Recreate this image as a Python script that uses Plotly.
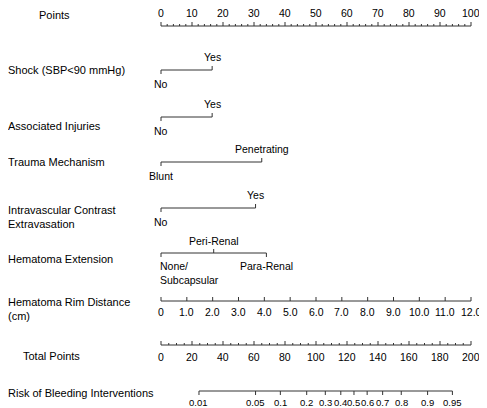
import plotly.graph_objects as go

# nomogram data (points scale 0-100)
points_ticks = list(range(0, 101, 10))
shock_levels = ["No", "Yes"]
shock_pts = [0, 16.5]
injury_levels = ["No", "Yes"]
injury_pts = [0, 16.5]
mech_levels = ["Blunt", "Penetrating"]
mech_pts = [0, 32.5]
contrast_levels = ["No", "Yes"]
contrast_pts = [0, 30.5]
hema_levels = ["None/<br>Subcapsular", "Peri-Renal", "Para-Renal"]
hema_pts = [0, 17, 34]
rim_values = [0, 1, 2, 3, 4, 5, 6, 7, 8, 9, 10, 11, 12]
rim_labels = ["0", "1.0", "2.0", "3.0", "4.0", "5.0", "6.0", "7.0", "8.0", "9.0", "10.0", "11.0", "12.0"]
total_ticks = list(range(0, 201, 20))
risk_labels = ["0.01", "0.05", "0.1", "0.2", "0.3", "0.4", "0.5", "0.6", "0.7", "0.8", "0.9", "0.95"]
risk_total = [24.5, 61, 77, 94, 106, 116, 124.5, 133, 143, 155, 172, 188]

row_names = ["Points", "Shock (SBP<90 mmHg)", "Associated Injuries", "Trauma Mechanism",
             "Intravascular Contrast<br>Extravasation", "Hematoma Extension",
             "Hematoma Rim Distance<br>(cm)", "Total Points", "Risk of Bleeding Interventions"]
row_label_y = [15, 70, 126, 162, 217, 259, 309, 356, 393]
row_label_x = [0.06, -0.004, -0.004, -0.004, -0.004, -0.004, -0.004, 0.028, -0.004]

FONT = "Liberation Sans, Arial"
xs, ys = [], []
def seg(x0, y0, x1, y1):
    xs.extend([x0, x1, None]); ys.extend([y0, y1, None])

annos = []
def lab(x, y, t, size=10.5):
    annos.append(dict(x=x, y=y, text=t, showarrow=False, xref="x", yref="y",
                      font=dict(size=size, family=FONT, color="black")))

# Points axis
py = 26
seg(0, py, 100, py)
for v in range(0, 101, 2):
    seg(v, py, v, py - (4 if v % 10 == 0 else 2))
for v in points_ticks:
    lab(v, 13, str(v))

def cat_row(levels, pts, ly, up):
    seg(min(pts), ly, max(pts), ly)
    for i, (l, p) in enumerate(zip(levels, pts)):
        above = up[i]
        seg(p, ly, p, ly - 4 if above else ly + 4)
        lab(p, ly - 13 if above else ly + 14, l)

cat_row(shock_levels, shock_pts, 70, [False, True])
cat_row(injury_levels, injury_pts, 117, [False, True])
cat_row(mech_levels, mech_pts, 162, [False, True])
cat_row(contrast_levels, contrast_pts, 208, [False, True])
# hematoma extension
hy = 253
seg(0, hy, 34, hy)
seg(0, hy, 0, hy + 4); seg(17, hy, 17, hy - 4); seg(34, hy, 34, hy + 4)
annos.append(dict(x=-1, y=hy + 20, text=hema_levels[0], showarrow=False, xanchor="left", align="left",
                  font=dict(size=10.5, family=FONT, color="black")))
lab(17, hy - 12, hema_levels[1])
lab(34, hy + 13, hema_levels[2])

# rim distance
ry = 301
seg(0, ry, 100, ry)
for v, t in zip(rim_values, rim_labels):
    p = v * 100 / 12
    seg(p, ry, p, ry - 4)
    lab(p, ry + 11, t)

# total points
ty = 345
seg(0, ty, 100, ty)
for v in range(0, 201, 5):
    seg(v / 2, ty, v / 2, ty - (4 if v % 20 == 0 else 2))
for v in total_ticks:
    lab(v / 2, ty + 12, str(v))

# risk
ky = 391
seg(risk_total[0] / 2, ky, risk_total[-1] / 2, ky)
for t, v in zip(risk_labels, risk_total):
    seg(v / 2, ky, v / 2, ky + 4)
    lab(v / 2, ky + 11, t, 9.5)

for name, y, x in zip(row_names, row_label_y, row_label_x):
    annos.append(dict(x=x, y=y, xref="paper", yref="y", text=name, showarrow=False,
                      xanchor="left", align="left", font=dict(size=11, family=FONT, color="black")))

fig = go.Figure(go.Scatter(x=xs, y=ys, mode="lines", line=dict(color="#333", width=1), hoverinfo="skip"))
fig.update_layout(
    width=479, height=400, margin=dict(l=0, r=0, t=0, b=0),
    plot_bgcolor="white", paper_bgcolor="white", showlegend=False,
    xaxis=dict(range=[-153 / 3.1, (479 - 153) / 3.1], visible=False),
    yaxis=dict(range=[408, 8], visible=False),
    annotations=annos,
)
fig.write_html("out.html")
